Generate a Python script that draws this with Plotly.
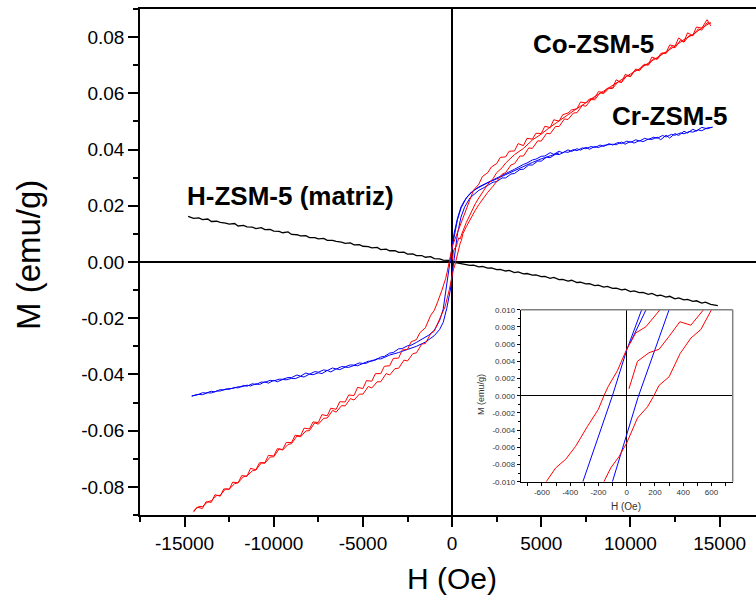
import numpy as np
import plotly.graph_objects as go

# ---------------- DATA ----------------
# Co-ZSM-5, descending branch (from +H to -H)
co_desc_H = [14500, 14300, 14000, 13700, 13500, 13200, 13000, 12700, 12500, 12200, 12000, 11700, 11500, 11200,
             11000, 10700, 10500, 10200, 10000, 9700, 9500, 9200, 9000, 8700, 8500, 8200, 8000, 7700, 7500, 7200,
             7000, 6700, 6500, 6200, 6000, 5700, 5500, 5200, 5000, 4700, 4500, 4200, 4000, 3700, 3500, 3200, 3000,
             2700, 2500, 2200, 2000, 1700, 1500, 1200, 1000, 700, 400, 236, 135, 0, -35, -66, -130, -161, -201,
             -279, -362, -432, -503, -569, -800, -1000, -1200, -1500, -1800, -2000, -2300, -2500, -2800, -3000,
             -3300, -3500, -3800, -4000, -4300, -4500, -4800, -5000, -5300, -5500, -5800, -6000, -6300, -6500,
             -6800, -7000, -7300, -7500, -7800, -8000, -8300, -8500, -8800, -9000, -9300, -9500, -9800, -10000,
             -10300, -10500, -10800, -11000, -11300, -11500, -11800, -12000, -12300, -12500, -12800, -13000,
             -13300, -13500, -13800, -14000, -14300, -14500]
co_desc_M = [0.0840, 0.0862, 0.0832, 0.0836, 0.0806, 0.0815, 0.0784, 0.0797, 0.0768, 0.0772,
             0.0745, 0.0742, 0.0722, 0.0729, 0.0702, 0.0700, 0.0685, 0.0678, 0.0661, 0.0667,
             0.0638, 0.0648, 0.0620, 0.0618, 0.0603, 0.0606, 0.0583, 0.0580, 0.0566, 0.0569,
             0.0545, 0.0541, 0.0530, 0.0524, 0.0501, 0.0506, 0.0478, 0.0483, 0.0457, 0.0458,
             0.0437, 0.0440, 0.0414, 0.0421, 0.0395, 0.0394, 0.0374, 0.0372, 0.0350, 0.0338,
             0.0318, 0.0304, 0.0277, 0.0255, 0.0222, 0.0172, 0.0126, 0.0100, 0.0080, 0.0054,
             0.0040, 0.0029, 0.0011, 0.0000, -0.0016, -0.0036, -0.0059, -0.0074, -0.0084, -0.0100,
             -0.0140, -0.0172, -0.0190, -0.0234, -0.0251, -0.0276, -0.0284, -0.0311, -0.0313, -0.0342,
             -0.0343, -0.0369, -0.0371, -0.0397, -0.0397, -0.0424, -0.0422, -0.0450, -0.0446, -0.0475,
             -0.0473, -0.0498, -0.0497, -0.0524, -0.0520, -0.0547, -0.0543, -0.0571, -0.0569, -0.0594,
             -0.0591, -0.0619, -0.0616, -0.0642, -0.0642, -0.0667, -0.0664, -0.0690, -0.0688, -0.0714,
             -0.0714, -0.0739, -0.0734, -0.0762, -0.0760, -0.0786, -0.0783, -0.0809, -0.0807, -0.0833,
             -0.0828, -0.0855, -0.0853, -0.0877, -0.0872, -0.0890]

# Co-ZSM-5, ascending branch (from -H to +H)
co_asc_H = [-14500, -14200, -14000, -13700, -13500, -13200, -13000, -12700, -12500, -12200, -12000, -11700,
            -11500, -11200, -11000, -10700, -10500, -10200, -10000, -9700, -9500, -9200, -9000, -8700, -8500,
            -8200, -8000, -7700, -7500, -7200, -7000, -6700, -6500, -6200, -6000, -5700, -5500, -5200, -5000,
            -4700, -4500, -4200, -4000, -3700, -3500, -3200, -3000, -2700, -2500, -2200, -2000, -1700, -1500,
            -1200, -1000, -700, -400, -161, -113, -55, 0, 76, 147, 189, 229, 300, 378, 454, 525, 600, 800,
            1000, 1300, 1500, 1800, 2000, 2300, 2500, 2800, 3000, 3300, 3500, 3800, 4000, 4300, 4500, 4800,
            5000, 5300, 5500, 5800, 6000, 6300, 6500, 6800, 7000, 7300, 7500, 7800, 8000, 8300, 8500, 8800,
            9000, 9300, 9500, 9800, 10000, 10300, 10500, 10800, 11000, 11300, 11500, 11800, 12000, 12300,
            12500, 12800, 13000, 13300, 13500, 13800, 14000, 14300, 14500]
co_asc_M = [-0.0885, -0.0870, -0.0870, -0.0853, -0.0849, -0.0831, -0.0830, -0.0807, -0.0808, -0.0789, -0.0785,
            -0.0764, -0.0761, -0.0743, -0.0740, -0.0715, -0.0716, -0.0694, -0.0693, -0.0665, -0.0669, -0.0649,
            -0.0646, -0.0619, -0.0622, -0.0601, -0.0600, -0.0572, -0.0577, -0.0556, -0.0555, -0.0528, -0.0534,
            -0.0511, -0.0512, -0.0486, -0.0491, -0.0470, -0.0470, -0.0443, -0.0448, -0.0426, -0.0426, -0.0397,
            -0.0402, -0.0379, -0.0378, -0.0349, -0.0352, -0.0326, -0.0323, -0.0292, -0.0290, -0.0255, -0.0246,
            -0.0205, -0.0160, -0.0100, -0.0084, -0.0071, -0.0055, -0.0026, -0.0013, -0.0001, 0.0012, 0.0022,
            0.0049, 0.0067, 0.0077, 0.0100, 0.0126, 0.0150, 0.0184, 0.0204, 0.0232, 0.0248, 0.0270, 0.0288,
            0.0312, 0.0318, 0.0345, 0.0350, 0.0377, 0.0377, 0.0406, 0.0404, 0.0431, 0.0430, 0.0458, 0.0456,
            0.0482, 0.0482, 0.0509, 0.0507, 0.0530, 0.0531, 0.0557, 0.0554, 0.0578, 0.0577, 0.0602, 0.0599,
            0.0618, 0.0617, 0.0641, 0.0639, 0.0663, 0.0659, 0.0687, 0.0680, 0.0704, 0.0700, 0.0724, 0.0721,
            0.0743, 0.0742, 0.0766, 0.0762, 0.0789, 0.0782, 0.0806, 0.0805, 0.0829, 0.0825, 0.0851, 0.0848]

# Co-ZSM-5, first magnetization curve
co_virgin_H = [16, 76, 158, 229, 300, 376, 454, 544, 800, 1000, 1300, 1500, 1800, 2000, 2300, 2500, 2800, 3000,
               3500, 4000, 4500, 5000, 5500, 6000, 6500, 7000, 7500, 8000, 8500, 9000, 9500, 10000, 10500,
               11000, 11500, 12000, 12500, 13000, 13500, 14000, 14500]
co_virgin_M = [0.0008, 0.0040, 0.0050, 0.0054, 0.0069, 0.0086, 0.0082, 0.0100, 0.0141, 0.0168, 0.0207, 0.0228,
               0.0258, 0.0276, 0.0297, 0.0318, 0.0335, 0.0352, 0.0382, 0.0404, 0.0434, 0.0455, 0.0480, 0.0503,
               0.0525, 0.0546, 0.0566, 0.0589, 0.0608, 0.0629, 0.0647, 0.0669, 0.0687, 0.0707, 0.0728, 0.0749,
               0.0768, 0.0791, 0.0809, 0.0832, 0.0852]

# Cr-ZSM-5, descending branch
cr_desc_H = [14600, 14300, 14000, 13700, 13500, 13200, 13000, 12700, 12500, 12200, 12000, 11700, 11500, 11200,
             11000, 10700, 10500, 10200, 10000, 9700, 9500, 9200, 9000, 8700, 8500, 8200, 8000, 7700, 7500, 7200,
             7000, 6700, 6500, 6200, 6000, 5700, 5500, 5200, 5000, 4700, 4500, 4200, 4000, 3500, 3000, 2500,
             2000, 1500, 1000, 700, 500, 300, 106, 0, -101, -200, -310, -500, -700, -1000, -1300, -1500, -1800,
             -2000, -2300, -2500, -2800, -3000, -3300, -3500, -3800, -4000, -4300, -4500, -4800, -5000, -5300,
             -5500, -5800, -6000, -6300, -6500, -6800, -7000, -7300, -7500, -7800, -8000, -8300, -8500, -8800,
             -9000, -9300, -9500, -9800, -10000, -10300, -10500, -10800, -11000, -11300, -11500, -11800, -12000,
             -12300, -12500, -12800, -13000, -13300, -13500, -13800, -14000, -14300, -14600]
cr_desc_M = [0.0480, 0.0474, 0.0479, 0.0466, 0.0472, 0.0459, 0.0465, 0.0450, 0.0457, 0.0441, 0.0451, 0.0435,
             0.0444, 0.0436, 0.0437, 0.0428, 0.0432, 0.0423, 0.0429, 0.0419, 0.0427, 0.0417, 0.0419, 0.0415,
             0.0415, 0.0407, 0.0411, 0.0401, 0.0408, 0.0398, 0.0403, 0.0393, 0.0399, 0.0388, 0.0394, 0.0383,
             0.0389, 0.0377, 0.0376, 0.0366, 0.0363, 0.0352, 0.0347, 0.0330, 0.0314, 0.0300, 0.0284, 0.0267,
             0.0244, 0.0219, 0.0196, 0.0155, 0.0100, 0.0053, 0.0000, -0.0048, -0.0100, -0.0168, -0.0208,
             -0.0243, -0.0260, -0.0268, -0.0280, -0.0286, -0.0296, -0.0298, -0.0308, -0.0309, -0.0322, -0.0324,
             -0.0336, -0.0338, -0.0349, -0.0350, -0.0360, -0.0361, -0.0369, -0.0368, -0.0375, -0.0374, -0.0383,
             -0.0380, -0.0391, -0.0386, -0.0397, -0.0394, -0.0401, -0.0399, -0.0409, -0.0407, -0.0415, -0.0414,
             -0.0419, -0.0418, -0.0426, -0.0421, -0.0431, -0.0426, -0.0436, -0.0433, -0.0441, -0.0438, -0.0444,
             -0.0444, -0.0450, -0.0450, -0.0455, -0.0454, -0.0462, -0.0460, -0.0466, -0.0465, -0.0473, -0.0476]

# Cr-ZSM-5, ascending branch
cr_asc_H = [-14600, -14300, -14000, -13700, -13500, -13200, -13000, -12700, -12500, -12200, -12000, -11700,
            -11500, -11200, -11000, -10700, -10500, -10200, -10000, -9700, -9500, -9200, -9000, -8700, -8500,
            -8200, -8000, -7700, -7500, -7200, -7000, -6700, -6500, -6200, -6000, -5700, -5500, -5200, -5000,
            -4700, -4500, -4200, -4000, -3500, -3000, -2500, -2000, -1500, -1000, -700, -500, -300, -101, 0,
            80, 300, 500, 700, 1000, 1300, 1500, 1800, 2000, 2300, 2500, 2800, 3000, 3300, 3500, 3800, 4000,
            4300, 4500, 4800, 5000, 5300, 5500, 5800, 6000, 6300, 6500, 6800, 7000, 7300, 7500, 7800, 8000,
            8300, 8500, 8800, 9000, 9300, 9500, 9800, 10000, 10300, 10500, 10800, 11000, 11300, 11500, 11800,
            12000, 12300, 12500, 12800, 13000, 13300, 13500, 13800, 14000, 14300, 14600]
cr_asc_M = [-0.0478, -0.0471, -0.0472, -0.0465, -0.0466, -0.0459, -0.0459, -0.0452, -0.0453, -0.0446, -0.0448,
            -0.0439, -0.0442, -0.0433, -0.0436, -0.0427, -0.0428, -0.0421, -0.0423, -0.0417, -0.0417, -0.0411,
            -0.0411, -0.0402, -0.0406, -0.0395, -0.0399, -0.0390, -0.0392, -0.0384, -0.0386, -0.0377, -0.0381,
            -0.0372, -0.0373, -0.0366, -0.0367, -0.0359, -0.0361, -0.0353, -0.0353, -0.0344, -0.0345, -0.0331,
            -0.0322, -0.0312, -0.0300, -0.0285, -0.0262, -0.0240, -0.0215, -0.0165, -0.0100, -0.0045, -0.0002,
            0.0100, 0.0160, 0.0195, 0.0228, 0.0245, 0.0255, 0.0265, 0.0273, 0.0284, 0.0286, 0.0299, 0.0299,
            0.0313, 0.0315, 0.0329, 0.0330, 0.0345, 0.0345, 0.0359, 0.0359, 0.0373, 0.0371, 0.0384, 0.0382,
            0.0392, 0.0390, 0.0400, 0.0396, 0.0406, 0.0403, 0.0411, 0.0407, 0.0416, 0.0411, 0.0421, 0.0416,
            0.0425, 0.0421, 0.0430, 0.0425, 0.0435, 0.0430, 0.0440, 0.0436, 0.0444, 0.0440, 0.0450, 0.0445,
            0.0454, 0.0451, 0.0459, 0.0456, 0.0464, 0.0462, 0.0470, 0.0467, 0.0477, 0.0479]

# Cr-ZSM-5, first magnetization curve
cr_virgin_H = [-20, 24, 137, 300, 500, 800, 1200, 1600, 2000, 2500, 3000, 3500, 4000, 4500, 5000, 5500, 6000]
cr_virgin_M = [0.0045, 0.0061, 0.0100, 0.0150, 0.0192, 0.0228, 0.0255, 0.0270, 0.0282, 0.0296, 0.0311,
               0.0326, 0.0340, 0.0354, 0.0367, 0.0378, 0.0388]

# H-ZSM-5 (matriz)
h_H = [-14800, -14500, -14200, -14000, -13700, -13500, -13200, -13000, -12700, -12500, -12200, -12000, -11700,
       -11500, -11200, -11000, -10700, -10500, -10200, -10000, -9700, -9500, -9200, -9000, -8700, -8500, -8200,
       -8000, -7700, -7500, -7200, -7000, -6700, -6500, -6200, -6000, -5700, -5500, -5200, -5000, -4700, -4500,
       -4200, -4000, -3700, -3500, -3200, -3000, -2700, -2500, -2200, -2000, -1700, -1500, -1200, -1000, -700,
       -500, -200, 0, 200, 500, 700, 1000, 1200, 1500, 1700, 2000, 2200, 2500, 2700, 3000, 3200, 3500, 3700,
       4000, 4200, 4500, 4700, 5000, 5200, 5500, 5700, 6000, 6200, 6500, 6700, 7000, 7200, 7500, 7700, 8000,
       8200, 8500, 8700, 9000, 9200, 9500, 9700, 10000, 10200, 10500, 10700, 11000, 11200, 11500, 11700, 12000,
       12200, 12500, 12700, 13000, 13200, 13500, 13700, 14000, 14200, 14500, 14900]
h_M = [0.0162, 0.0155, 0.0157, 0.0151, 0.0153, 0.0144, 0.0145, 0.0141, 0.0138, 0.0135,
       0.0137, 0.0128, 0.0130, 0.0125, 0.0124, 0.0119, 0.0122, 0.0115, 0.0116, 0.0110,
       0.0109, 0.0104, 0.0107, 0.0098, 0.0097, 0.0093, 0.0094, 0.0087, 0.0087, 0.0082,
       0.0084, 0.0077, 0.0077, 0.0073, 0.0071, 0.0066, 0.0068, 0.0061, 0.0062, 0.0056,
       0.0055, 0.0050, 0.0052, 0.0044, 0.0046, 0.0040, 0.0040, 0.0034, 0.0035, 0.0028,
       0.0029, 0.0023, 0.0023, 0.0017, 0.0019, 0.0012, 0.0011, 0.0007, 0.0006, 0.0000,
       -0.0002, -0.0006, -0.0006, -0.0012, -0.0011, -0.0017, -0.0016, -0.0022, -0.0021, -0.0027,
       -0.0026, -0.0032, -0.0030, -0.0038, -0.0035, -0.0042, -0.0041, -0.0047, -0.0046, -0.0052,
       -0.0051, -0.0058, -0.0055, -0.0063, -0.0062, -0.0068, -0.0065, -0.0073, -0.0072, -0.0078,
       -0.0077, -0.0084, -0.0082, -0.0089, -0.0087, -0.0094, -0.0093, -0.0099, -0.0097, -0.0105,
       -0.0103, -0.0109, -0.0108, -0.0115, -0.0112, -0.0120, -0.0118, -0.0125, -0.0122, -0.0131,
       -0.0128, -0.0135, -0.0133, -0.0140, -0.0138, -0.0146, -0.0143, -0.0151, -0.0155]

# Inset (low-field detail)
in_co_desc_H = [-569, -503, -432, -362, -279, -201, -161, -130, -66, -35, 0, 64, 135, 236]
in_co_desc_M = [-0.0100, -0.0084, -0.0074, -0.0059, -0.0036, -0.0016, 0.0000, 0.0011, 0.0029, 0.0040, 0.0054,
                0.0073, 0.0080, 0.0100]
in_co_asc_H = [-161, -113, -55, 0, 76, 147, 189, 229, 300, 378, 454, 525, 600]
in_co_asc_M = [-0.0100, -0.0084, -0.0071, -0.0055, -0.0026, -0.0013, -0.0001, 0.0012, 0.0022, 0.0049, 0.0067,
               0.0077, 0.0100]
in_co_virgin_H = [16, 76, 158, 229, 300, 376, 454, 544]
in_co_virgin_M = [0.0008, 0.0040, 0.0050, 0.0054, 0.0069, 0.0086, 0.0082, 0.0100]
in_cr_desc_H = [-310, -101, 0, 106]
in_cr_desc_M = [-0.0100, 0.0000, 0.0053, 0.0100]
in_cr_asc_H = [-101, 0, 80, 300]
in_cr_asc_M = [-0.0100, -0.0045, -0.0002, 0.0100]
in_cr_virgin_H = [24, 137]
in_cr_virgin_M = [0.0061, 0.0100]

# Tick labels
x_tick_vals = [-15000, -10000, -5000, 0, 5000, 10000, 15000]
x_tick_text = ["-15000", "-10000", "-5000", "0", "5000", "10000", "15000"]
y_tick_vals = [-0.08, -0.06, -0.04, -0.02, 0.0, 0.02, 0.04, 0.06, 0.08]
y_tick_text = ["-0.08", "-0.06", "-0.04", "-0.02", "0.00", "0.02", "0.04", "0.06", "0.08"]
ix_tick_vals = [-600, -400, -200, 0, 200, 400, 600]
ix_tick_text = ["-600", "-400", "-200", "0", "200", "400", "600"]
iy_tick_vals = [-0.010, -0.008, -0.006, -0.004, -0.002, 0.0, 0.002, 0.004, 0.006, 0.008, 0.010]
iy_tick_text = ["-0.010", "-0.008", "-0.006", "-0.004", "-0.002", "0.000", "0.002", "0.004", "0.006",
                "0.008", "0.010"]

# ---------------- FIGURE ----------------
FONT = "Arial, Liberation Sans, Helvetica, sans-serif"
RED, BLUE, BLACK = "#FF0000", "#0000FF", "#000000"

fig = go.Figure()

def add(xs, ys, color, xa="x", ya="y", w=1):
    fig.add_trace(go.Scatter(x=xs, y=ys, mode="lines", line=dict(color=color, width=w),
                             xaxis=xa, yaxis=ya, showlegend=False, hoverinfo="skip"))

add(h_H, h_M, BLACK, w=1.3)
add(cr_desc_H, cr_desc_M, BLUE)
add(cr_asc_H, cr_asc_M, BLUE)
add(cr_virgin_H, cr_virgin_M, BLUE)
add(co_virgin_H, co_virgin_M, RED)
add(co_desc_H, co_desc_M, RED)
add(co_asc_H, co_asc_M, RED)

add(in_cr_desc_H, in_cr_desc_M, BLUE, "x2", "y2")
add(in_cr_asc_H, in_cr_asc_M, BLUE, "x2", "y2")
add(in_cr_virgin_H, in_cr_virgin_M, BLUE, "x2", "y2")
add(in_co_desc_H, in_co_desc_M, RED, "x2", "y2")
add(in_co_asc_H, in_co_asc_M, RED, "x2", "y2")
add(in_co_virgin_H, in_co_virgin_M, RED, "x2", "y2")

W, H = 756, 600
ML, MR, MT, MB = 140, 0, 9, 85
PW, PH = W - ML - MR, H - MT - MB

def fx(px):
    return (px - ML) / PW

def fy(py):
    return (H - MB - py) / PH

fig.update_layout(
    width=W, height=H, margin=dict(l=ML, r=MR, t=MT, b=MB),
    paper_bgcolor="white", plot_bgcolor="white",
    font=dict(family=FONT, color="black"),
    xaxis=dict(range=[-17500, 17040], showline=True, linecolor="black", linewidth=1.5, mirror=True,
               ticks="outside", ticklen=10, tickwidth=1.5, tickcolor="black",
               tickvals=x_tick_vals, ticktext=x_tick_text, tickfont=dict(size=19, family=FONT),
               minor=dict(tickvals=list(np.arange(-17500, 17501, 5000)), ticks="outside", ticklen=5,
                          tickwidth=1.5, tickcolor="black"),
               showgrid=False, zeroline=True, zerolinecolor="black", zerolinewidth=1.5),
    yaxis=dict(range=[-0.09, 0.09], showline=True, linecolor="black", linewidth=1.5, mirror=False,
               ticks="outside", ticklen=10, tickwidth=1.5, tickcolor="black",
               tickvals=y_tick_vals, ticktext=y_tick_text, tickfont=dict(size=19, family=FONT),
               minor=dict(tickvals=[round(v, 2) for v in np.arange(-0.09, 0.0901, 0.02)], ticks="outside",
                          ticklen=5, tickwidth=1.5, tickcolor="black"),
               showgrid=False, zeroline=True, zerolinecolor="black", zerolinewidth=1.5),
    xaxis2=dict(domain=[fx(520.7), fx(732.7)], anchor="y2", range=[-750, 750], showline=True,
                linecolor="black", linewidth=1, ticks="outside", ticklen=3, tickwidth=1, tickcolor="black",
                tickvals=ix_tick_vals, ticktext=ix_tick_text, tickfont=dict(size=8, color="#333333"),
                minor=dict(tickvals=[-700, -500, -300, -100, 100, 300, 500, 700], ticks="outside", ticklen=3,
                           tickwidth=1, tickcolor="black"),
                showgrid=False, zeroline=True, zerolinecolor="black", zerolinewidth=1),
    yaxis2=dict(domain=[fy(481.7), fy(309.7)], anchor="x2", range=[-0.010, 0.010], showline=True,
                linecolor="black", linewidth=1, ticks="outside", ticklen=3, tickwidth=1, tickcolor="black",
                tickvals=iy_tick_vals, ticktext=iy_tick_text, tickfont=dict(size=8, color="#333333"),
                minor=dict(tickvals=[-0.009, -0.007, -0.005, -0.003, -0.001, 0.001, 0.003, 0.005, 0.007, 0.009],
                           ticks="outside", ticklen=2, tickwidth=1, tickcolor="black"),
                showgrid=False, zeroline=True, zerolinecolor="black", zerolinewidth=1),
)

# inset top / right frame lines (grey)
fig.add_shape(type="line", xref="x2 domain", yref="y2 domain", x0=0, x1=1, y0=1, y1=1,
              line=dict(color="#808080", width=1.5))
fig.add_shape(type="line", xref="x2 domain", yref="y2 domain", x0=1, x1=1, y0=0, y1=1,
              line=dict(color="#808080", width=1.5))

ann = [
    dict(text="<b>Co-ZSM-5</b>", x=fx(593), y=fy(44), size=26),
    dict(text="<b>Cr-ZSM-5</b>", x=fx(670), y=fy(116), size=26),
    dict(text="<b>H-ZSM-5 (matriz)</b>", x=fx(290), y=fy(196), size=26),
    dict(text="H (Oe)", x=fx(452), y=fy(578), size=30),
    dict(text="M (emu/g)", x=fx(29), y=fy(255), size=33, angle=-90),
    dict(text="H (Oe)", x=fx(626), y=fy(506), size=10, color="#333333"),
    dict(text="M (emu/g)", x=fx(481), y=fy(395), size=9, angle=-90, color="#333333"),
]
for a in ann:
    fig.add_annotation(text=a["text"], x=a["x"], y=a["y"], xref="paper", yref="paper",
                       xanchor="center", yanchor="middle", showarrow=False,
                       textangle=a.get("angle", 0),
                       font=dict(size=a["size"], family=FONT, color=a.get("color", "black")))

fig.write_html("out.html", config={"displayModeBar": False},
               post_script="document.body.style.margin='0';document.body.style.overflow='hidden';")
